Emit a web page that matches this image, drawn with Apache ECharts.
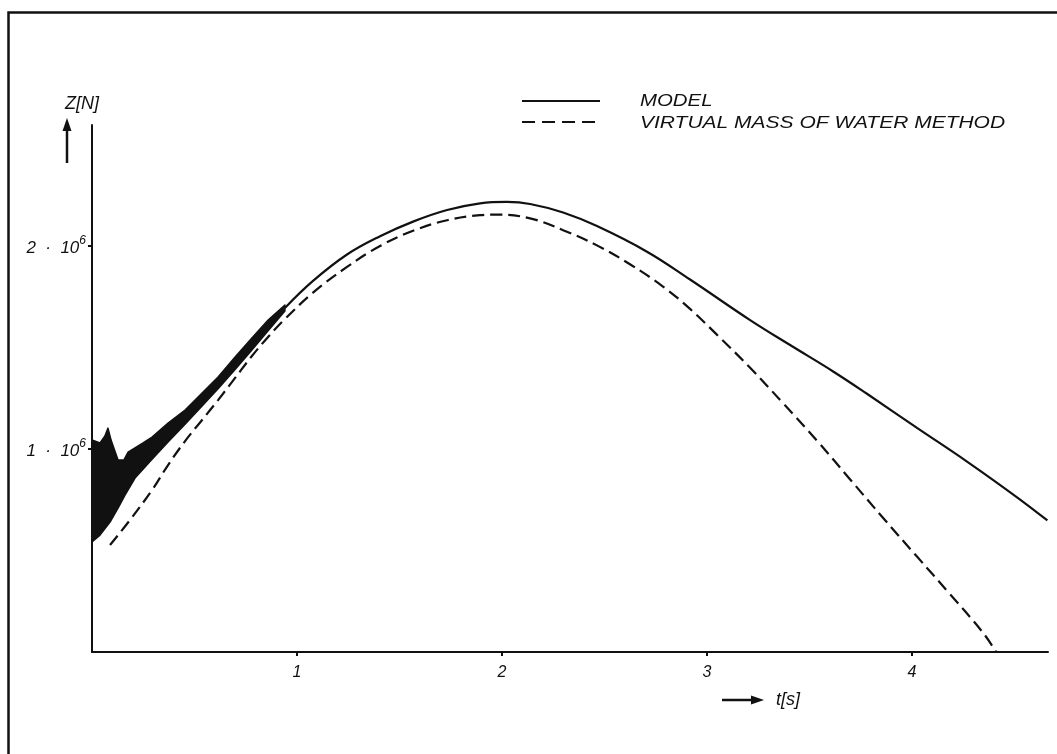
<!DOCTYPE html>
<html>
<head>
<meta charset="utf-8">
<script src="https://cdn.jsdelivr.net/npm/echarts@6/dist/echarts.min.js"></script>
<style>
  html, body { margin: 0; padding: 0; background: #ffffff; }
  #chart { width: 1057px; height: 754px; }
</style>
</head>
<body>
<div id="chart"></div>
<script>
// ---- data (t in s, Z in N) ----
const xTicks = [1, 2, 3, 4];
const yTicks = [1e6, 2e6];

// noisy start of the MODEL curve: upper and lower envelope of the black band
const bandUpper = [
  [0.000, 1.044e6], [0.039, 1.030e6], [0.063, 1.064e6], [0.078, 1.103e6],
  [0.093, 1.044e6], [0.127, 0.946e6], [0.156, 0.946e6], [0.176, 0.985e6],
  [0.249, 1.030e6], [0.293, 1.059e6], [0.371, 1.128e6], [0.454, 1.192e6],
  [0.537, 1.276e6], [0.615, 1.355e6], [0.698, 1.453e6], [0.780, 1.547e6],
  [0.859, 1.635e6], [0.941, 1.709e6]
];
const bandLower = [
  [0.000, 0.542e6], [0.039, 0.576e6], [0.088, 0.640e6], [0.127, 0.709e6],
  [0.161, 0.773e6], [0.210, 0.857e6], [0.293, 0.950e6], [0.371, 1.035e6],
  [0.454, 1.122e6], [0.537, 1.212e6], [0.615, 1.297e6], [0.698, 1.392e6],
  [0.780, 1.488e6], [0.859, 1.583e6], [0.941, 1.680e6]
];

// MODEL (solid)
const modelData = [
  [0.941, 1.695e6], [1.078, 1.828e6], [1.244, 1.958e6], [1.405, 2.048e6],
  [1.566, 2.120e6], [1.732, 2.177e6], [1.893, 2.210e6], [2.024, 2.217e6],
  [2.137, 2.207e6], [2.298, 2.165e6], [2.463, 2.098e6], [2.707, 1.972e6],
  [2.917, 1.835e6], [3.210, 1.635e6], [3.405, 1.512e6], [3.615, 1.382e6],
  [3.780, 1.272e6], [4.024, 1.104e6], [4.268, 0.938e6], [4.512, 0.762e6],
  [4.660, 0.648e6]
];

// VIRTUAL MASS OF WATER METHOD (dashed)
const virtualData = [
  [0.088, 0.527e6], [0.185, 0.650e6], [0.293, 0.798e6], [0.371, 0.921e6],
  [0.454, 1.039e6], [0.537, 1.143e6], [0.615, 1.241e6], [0.698, 1.350e6],
  [0.780, 1.458e6], [0.859, 1.552e6], [0.941, 1.640e6], [1.078, 1.770e6],
  [1.244, 1.897e6], [1.405, 2.000e6], [1.566, 2.075e6], [1.732, 2.127e6],
  [1.893, 2.152e6], [1.976, 2.155e6], [2.137, 2.136e6], [2.298, 2.078e6],
  [2.463, 2.003e6], [2.624, 1.910e6], [2.785, 1.800e6], [2.917, 1.690e6],
  [3.049, 1.562e6], [3.210, 1.400e6], [3.371, 1.225e6], [3.537, 1.040e6],
  [3.698, 0.850e6], [3.859, 0.660e6], [4.024, 0.470e6], [4.185, 0.285e6],
  [4.346, 0.095e6], [4.410, 0.000e6]
];

const legendNames = ['MODEL', 'VIRTUAL MASS OF WATER METHOD'];

// ---- chart ----
const INK = '#111111';
const FONT = '"Liberation Sans", Arial, Helvetica, sans-serif';
const chart = echarts.init(document.getElementById('chart'), null, { renderer: 'canvas' });

const option = {
  backgroundColor: '#ffffff',
  animation: false,
  grid: { left: 92, top: 125, right: 9, bottom: 102, containLabel: false },
  xAxis: {
    type: 'value',
    min: 0, max: 4.663, interval: 1,
    name: 't[s]',
    nameLocation: 'middle',
    nameGap: 39,
    nameTextStyle: { color: INK, fontFamily: FONT, fontStyle: 'italic', fontSize: 18, padding: [0, 0, 0, 436] },
    axisLine: { show: true, lineStyle: { color: INK, width: 2 } },
    axisTick: { show: true, length: 4, inside: false, customValues: xTicks, lineStyle: { color: INK, width: 2 } },
    axisLabel: {
      show: true, customValues: xTicks, margin: 13,
      color: INK, fontFamily: FONT, fontStyle: 'italic', fontSize: 16,
      formatter: v => String(v)
    },
    splitLine: { show: false }
  },
  yAxis: {
    type: 'value',
    min: 0, max: 2.596e6, interval: 1e6,
    name: 'Z[N]',
    nameLocation: 'end',
    nameGap: 12,
    nameTextStyle: { color: INK, fontFamily: FONT, fontStyle: 'italic', fontSize: 18, padding: [0, 20, 0, 0] },
    axisLine: { show: true, lineStyle: { color: INK, width: 2 } },
    axisTick: { show: true, length: 4, inside: false, customValues: yTicks, lineStyle: { color: INK, width: 2 } },
    axisLabel: {
      show: true, customValues: yTicks, margin: 6,
      formatter: v => '{b|' + (v / 1e6) + '  ·  10}{s|6}',
      rich: {
        b: { color: INK, fontFamily: FONT, fontStyle: 'italic', fontSize: 17, lineHeight: 22, verticalAlign: 'bottom' },
        s: { color: INK, fontFamily: FONT, fontStyle: 'italic', fontSize: 12, lineHeight: 14, verticalAlign: 'top' }
      }
    },
    splitLine: { show: false }
  },
  series: [
    {
      type: 'custom',
      name: 'MODEL band',
      silent: true,
      z: 3,
      data: [[0, 0]],
      renderItem: (params, api) => {
        const pts = bandUpper.map(p => api.coord(p))
          .concat(bandLower.slice().reverse().map(p => api.coord(p)));
        return {
          type: 'polygon',
          shape: { points: pts },
          style: { fill: INK, stroke: INK, lineWidth: 1.5, lineJoin: 'round' }
        };
      }
    },
    {
      type: 'line',
      name: legendNames[0],
      data: modelData,
      showSymbol: false,
      symbol: 'none',
      smooth: 0.4,
      lineStyle: { color: INK, width: 2.2, type: 'solid' },
      z: 4
    },
    {
      type: 'line',
      name: legendNames[1],
      data: virtualData,
      showSymbol: false,
      symbol: 'none',
      smooth: 0.4,
      lineStyle: { color: INK, width: 2.2, type: [12, 6] },
      z: 4
    }
  ],
  graphic: [
    // outer frame (page border)
    { type: 'rect', left: 6, top: 10, shape: { x: 0, y: 0, width: 1100, height: 800 },
      style: { fill: 'none', stroke: INK, lineWidth: 2.5 }, silent: true },
    // Z arrow
    { type: 'line', shape: { x1: 67, y1: 163, x2: 67, y2: 128 }, style: { stroke: INK, lineWidth: 2.5 }, silent: true },
    { type: 'polygon', shape: { points: [[67, 118], [62.5, 131], [71.5, 131]] }, style: { fill: INK }, silent: true },
    // t arrow
    { type: 'line', shape: { x1: 722, y1: 700, x2: 754, y2: 700 }, style: { stroke: INK, lineWidth: 2.5 }, silent: true },
    { type: 'polygon', shape: { points: [[764, 700], [751, 695.5], [751, 704.5]] }, style: { fill: INK }, silent: true },
    // legend
    { type: 'line', shape: { x1: 522, y1: 101, x2: 600, y2: 101 }, style: { stroke: INK, lineWidth: 2 }, silent: true },
    { type: 'line', shape: { x1: 522, y1: 122, x2: 600, y2: 122 }, style: { stroke: INK, lineWidth: 2, lineDash: [13, 7] }, silent: true },
    { type: 'text', x: 640, y: 101, scaleX: 1.2,
      style: { text: legendNames[0], fill: INK, font: 'italic 17px ' + FONT, textVerticalAlign: 'middle', verticalAlign: 'middle' }, silent: true },
    { type: 'text', x: 640, y: 123, scaleX: 1.235,
      style: { text: legendNames[1], fill: INK, font: 'italic 17px ' + FONT, textVerticalAlign: 'middle', verticalAlign: 'middle' }, silent: true }
  ]
};

chart.setOption(option);
</script>
</body>
</html>
